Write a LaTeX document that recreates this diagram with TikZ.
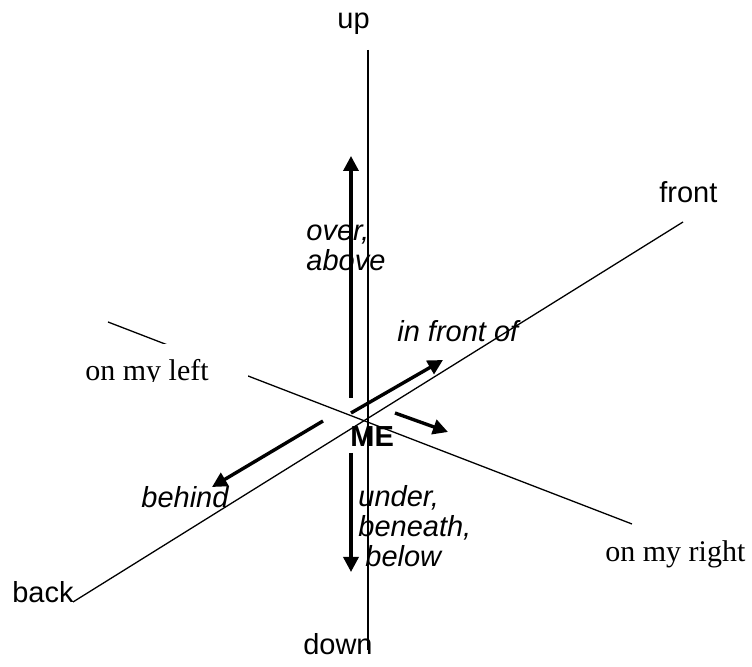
\documentclass[tikz,border=0pt]{standalone}
\usepackage{fontspec}
\setmainfont{Liberation Serif}
\setsansfont{Liberation Sans}
\usepackage{tikz}
\usetikzlibrary{arrows.meta, positioning}

\begin{document}
\begin{tikzpicture}[x=0.5pt, y=-0.5pt,
    axisline/.style={black, line width=0.65pt},
    relarrow/.style={black, line width=1.7pt, -{Triangle[length=7.5pt,width=7.5pt]}},
    dirlabel/.style={inner sep=0pt, font=\sffamily\fontsize{14.5}{15}\selectfont},
    prep/.style={inner sep=0pt, align=left, font=\sffamily\itshape\fontsize{14.5}{15}\selectfont},
    side/.style={inner sep=0pt, font=\rmfamily\fontsize{15}{16}\selectfont}]
    \useasboundingbox (0,0) rectangle (752,667);

    % Axis end points
    \coordinate (upend) at (368,50);
    \coordinate (downend) at (368,650);
    \coordinate (backend) at (73,602);
    \coordinate (frontend) at (683,222);
    \coordinate (leftend) at (108,322);
    \coordinate (rightend) at (632,524);

    % Axes
    \draw[axisline] (upend) -- (downend);
    \draw[axisline] (backend) -- (frontend);
    \draw[axisline] (leftend) -- (rightend);

    % Arrows around ME
    \coordinate (overfoot) at (351,398);
    \coordinate (overtip) at (351,156);
    \coordinate (underfoot) at (351,453);
    \coordinate (undertip) at (351,572);
    \coordinate (frontfoot) at (351,413);
    \coordinate (fronttip) at (443,360);
    \coordinate (rightfoot) at (395,413);
    \coordinate (righttip) at (448,432);
    \coordinate (behindfoot) at (323,421);
    \coordinate (behindtip) at (212,487);
    \draw[relarrow] (overfoot) -- (overtip);
    \draw[relarrow] (underfoot) -- (undertip);
    \draw[relarrow] (frontfoot) -- (fronttip);
    \draw[relarrow] (rightfoot) -- (righttip);
    \draw[relarrow] (behindfoot) -- (behindtip);

    % Direction labels
    \node[dirlabel, anchor=base west] (up) at (337,29) {up};
    \node[dirlabel, anchor=base east] (down) at (373,655) {down};
    \node[dirlabel, anchor=base west] (front) at (659,203) {front};
    \node[dirlabel, anchor=base east] (back) at (74,603) {back};
    \node[dirlabel, anchor=base west, font=\sffamily\bfseries\fontsize{14.5}{15}\selectfont] (me) at (350,447) {ME};

    % Prepositions (base = last line)
    \node[prep, anchor=base west] (over) at (306,271) {over,\\above};
    \node[prep, anchor=base west] (infront) at (397,342) {in front of};
    \node[prep, anchor=base west] (behind) at (141,508) {behind};
    \node[prep, anchor=base west] (under) at (358,567) {under,\\beneath,\\\hspace{3.5pt}below};

    % Sides
    \begin{scope}
        \clip (80,344) rectangle (248,382);
        \fill[white] (80,344) rectangle (248,382);
        \node[side, anchor=base west] (left) at (85,381) {on my left};
    \end{scope}
    \node[side, anchor=base west] (right) at (605,562) {on my right};
\end{tikzpicture}
\end{document}
